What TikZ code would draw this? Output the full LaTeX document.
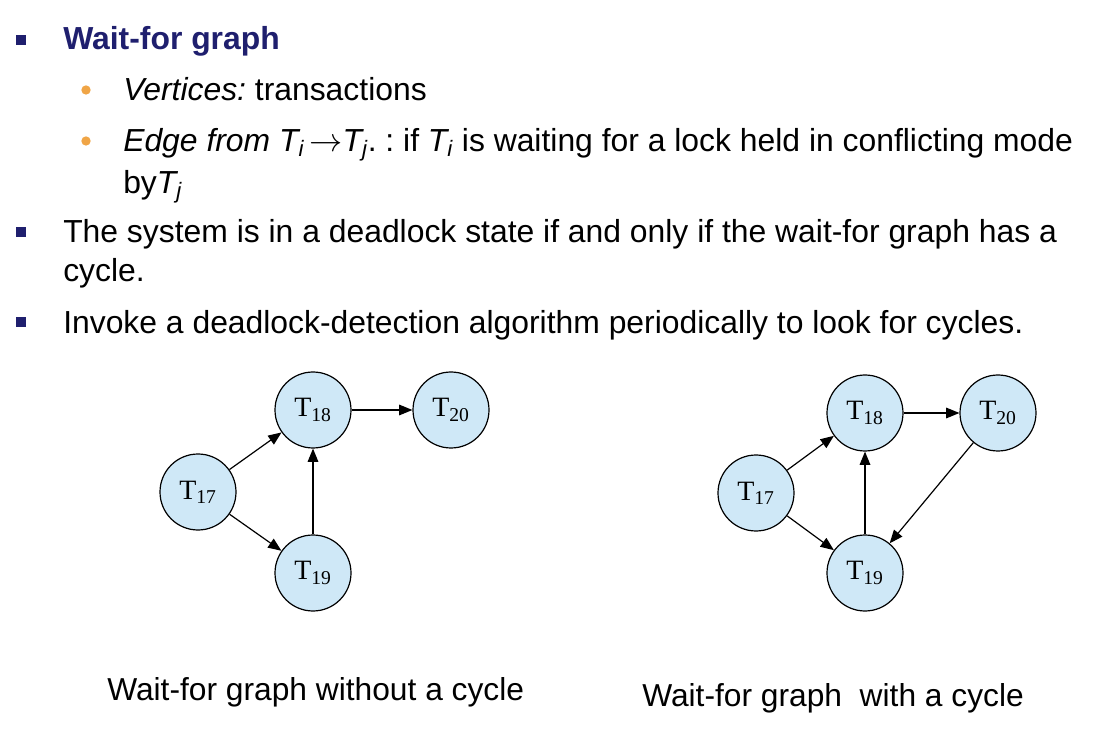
\documentclass[tikz,border=0pt]{standalone}
\usepackage{fontspec}
\setmainfont{Liberation Sans}
\newfontfamily\circfont{Liberation Serif}
\usetikzlibrary{arrows.meta}
\frenchspacing
\definecolor{navy}{RGB}{31,31,110}
\definecolor{bulorange}{RGB}{240,165,70}
\definecolor{circfill}{RGB}{207,232,247}
\tikzset{
  body/.style={anchor=base west, inner sep=0pt, font=\fontsize{23.9}{28}\selectfont},
  sqbullet/.style={fill=navy, minimum size=7pt, inner sep=0pt},
  dotbullet/.style={circle, fill=bulorange, minimum size=7pt, inner sep=0pt},
  tnode/.style={circle, draw=black, line width=0.9pt, fill=circfill, minimum size=57pt, inner sep=0pt, font=\fontsize{21}{24}\selectfont\circfont},
  edge/.style={-{Triangle[length=10pt,width=8pt]}, line width=0.9pt},
  caption/.style={anchor=base west, inner sep=0pt, font=\fontsize{23.8}{28}\selectfont}
}
\begin{document}
\begin{tikzpicture}[x=0.75pt,y=-0.75pt]
\useasboundingbox (0,0) rectangle (1097,752);
% bullets and text
\node[sqbullet] (b1) at (21,40) {};
\node[body, text=navy, font=\fontsize{23.9}{28}\selectfont\bfseries] (t1) at (63,50) {Wait-for graph};
\node[dotbullet] (d1) at (86,90) {};
\node[body] (t2) at (123,101) {\textit{Vertices:} transactions};
\node[dotbullet] (d2) at (86,141) {};
\node[body] (t3) at (123,152) {\textit{Edge from T\textsubscript{i}}\,$\rightarrow$\textit{T\textsubscript{j}}. : if \textit{T\textsubscript{i}} is waiting for a lock held in conflicting mode};
\node[body] (t4) at (123,194) {by\textit{T\textsubscript{j}}};
\node[sqbullet] (b2) at (21,232) {};
\node[body] (t5) at (63,243) {The system is in a deadlock state if and only if the wait-for graph has a};
\node[body] (t6) at (63,282) {cycle.};
\node[sqbullet] (b3) at (21,322) {};
\node[body] (t7) at (63,334) {Invoke a deadlock-detection algorithm periodically to look for cycles.};
% left graph
\node[tnode] (a17) at (198,492) {T\textsubscript{17}};
\node[tnode] (a18) at (313,410) {T\textsubscript{18}};
\node[tnode] (a19) at (313,573) {T\textsubscript{19}};
\node[tnode] (a20) at (451,410) {T\textsubscript{20}};
\draw[edge] (a17) -- (a18);
\draw[edge] (a17) -- (a19);
\draw[edge] (a19) -- (a18);
\draw[edge] (a18) -- (a20);
% right graph
\node[tnode] (c17) at (756,493) {T\textsubscript{17}};
\node[tnode] (c18) at (865,413) {T\textsubscript{18}};
\node[tnode] (c19) at (865,573) {T\textsubscript{19}};
\node[tnode] (c20) at (998,413) {T\textsubscript{20}};
\draw[edge] (c17) -- (c18);
\draw[edge] (c17) -- (c19);
\draw[edge] (c19) -- (c18);
\draw[edge] (c18) -- (c20);
\draw[edge] (c20) -- (c19);
% captions
\node[caption] (cap1) at (107,700) {Wait-for graph without a cycle};
\node[caption] (cap2) at (642,706) {Wait-for graph\ \ with a cycle};
\end{tikzpicture}
\end{document}
